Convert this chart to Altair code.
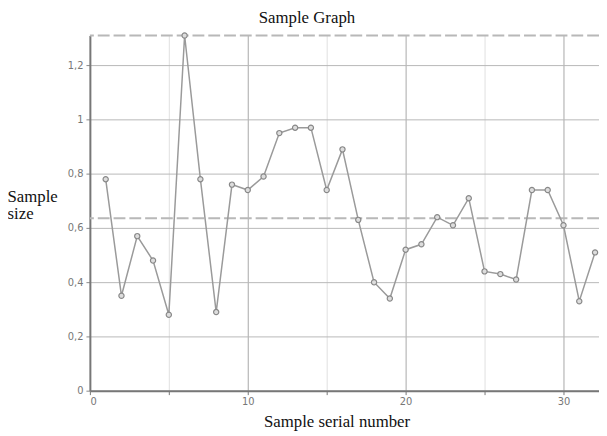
import altair as alt
import pandas as pd

# Data
sample_no = list(range(1, 33))
sample_size = [0.78, 0.35, 0.57, 0.48, 0.28, 1.31, 0.78, 0.29, 0.76, 0.74,
               0.79, 0.95, 0.97, 0.97, 0.74, 0.89, 0.63, 0.40, 0.34, 0.52,
               0.54, 0.64, 0.61, 0.71, 0.44, 0.43, 0.41, 0.74, 0.74, 0.61,
               0.33, 0.51]
ref_levels = [1.31, 0.636]

x_ticks = [0, 5, 10, 15, 20, 25, 30]
y_ticks = [0, 0.1, 0.2, 0.3, 0.4, 0.5, 0.6, 0.7, 0.8, 0.9, 1.0, 1.1, 1.2]

df = pd.DataFrame({"n": sample_no, "v": sample_size})
ref_df = pd.DataFrame({"level": ref_levels})

X_DOM = [0, 32.25]
Y_DOM = [0, 1.31]
SERIF = "Liberation Serif"

xscale = alt.Scale(domain=X_DOM, nice=False, zero=False)
yscale = alt.Scale(domain=Y_DOM, nice=False)

x_axis = alt.Axis(
    values=x_ticks,
    labelExpr="datum.value % 10 === 0 ? datum.value : ''",
    gridColor={"condition": {"test": "datum.value % 10 === 0", "value": "#a8a8a8"}, "value": "#e0e0e0"},
    gridWidth=1,
    domainColor="#777777", domainWidth=2,
    tickColor="#777777", tickSize=4,
    labelColor="#777777", labelFont="DejaVu Sans", labelFontSize=10,
    labelPadding=2,
    title="Sample serial number", titleFont=SERIF, titleFontSize=17,
    titleFontWeight="normal", titleColor="#111111",
    titleX=250, titleY=36, titleBaseline="alphabetic", titleAlign="center",
)
y_axis = alt.Axis(
    values=y_ticks,
    labelExpr="(round(datum.value*10) % 2 === 0) ? replace(format(datum.value, '.1~f'), '.', ',') : ''",
    gridColor={"condition": {"test": "round(datum.value*10) % 2 === 0", "value": "#b8b8b8"}, "value": "#e4e4e4"},
    gridWidth=1,
    domainColor="#777777", domainWidth=2,
    tickColor="#888888", tickSize=4,
    labelColor="#777777", labelFont="DejaVu Sans", labelFontSize=10,
    labelPadding=3,
    title=["Sample", "size"], titleFont=SERIF, titleFontSize=17,
    titleFontWeight="normal", titleColor="#111111", titleAngle=0,
    titleAlign="left", titleBaseline="alphabetic",
    titleX=-84, titleY=168, titleLineHeight=17,
)

line = alt.Chart(df).mark_line(color="#9a9a9a", strokeWidth=1.5).encode(
    x=alt.X("n:Q", scale=xscale, axis=x_axis),
    y=alt.Y("v:Q", scale=yscale, axis=y_axis),
)
pts = alt.Chart(df).mark_point(
    shape="circle", size=28, filled=True, fill="#dddddd", stroke="#888888", strokeWidth=1.2, opacity=1
).encode(
    x=alt.X("n:Q", scale=xscale),
    y=alt.Y("v:Q", scale=yscale),
)
refs = alt.Chart(ref_df).mark_rule(color="#b8b8b8", strokeWidth=2, strokeDash=[12, 4]).encode(
    y=alt.Y("level:Q", scale=yscale),
)

chart = alt.layer(refs, line, pts).properties(
    width=516,
    height=360,
    autosize=alt.AutoSizeParams(type="none"),
    padding={"left": 83, "top": 25, "right": 0, "bottom": 38},
    title=alt.TitleParams("Sample Graph", font=SERIF, fontSize=17, fontWeight="normal",
                          color="#111111", anchor="middle", offset=4, dx=-38),
).configure_view(stroke=None).configure_axis(grid=True)

chart.save("out.html", embed_options={"renderer": "svg", "actions": False})
